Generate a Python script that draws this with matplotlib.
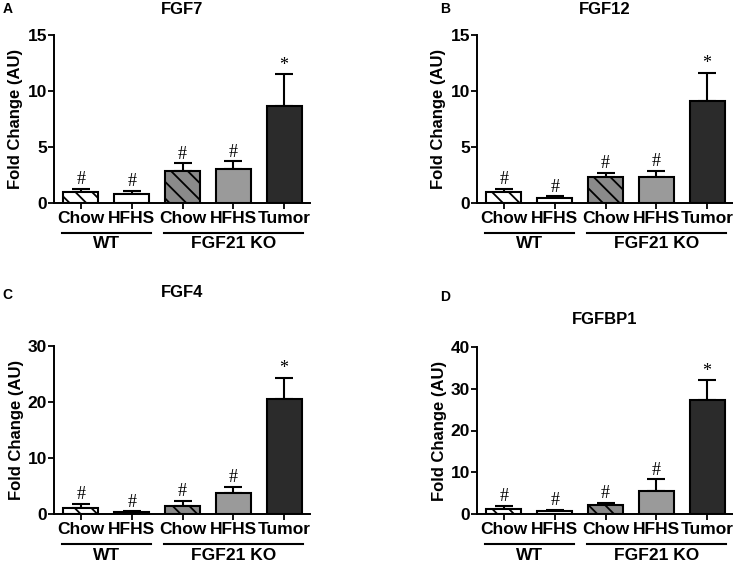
import matplotlib
matplotlib.use("Agg")
import matplotlib.pyplot as plt
import matplotlib.transforms as mtransforms

plt.rcParams['font.family'] = ['Liberation Sans', 'DejaVu Sans']
plt.rcParams['font.weight'] = 'bold'
plt.rcParams['hatch.linewidth'] = 1.3

categories = ["Chow", "HFHS", "Chow", "HFHS", "Tumor"]
groups = ["WT", "FGF21 KO"]

fgf7_mean = [1.0, 0.8, 2.9, 3.0, 8.7]
fgf7_err = [0.27, 0.3, 0.65, 0.72, 2.8]
fgf12_mean = [1.0, 0.47, 2.28, 2.35, 9.15]
fgf12_err = [0.25, 0.13, 0.42, 0.52, 2.45]
fgf4_mean = [1.1, 0.4, 1.5, 3.8, 20.6]
fgf4_err = [0.7, 0.1, 0.8, 1.1, 3.7]
fgfbp1_mean = [1.1, 0.6, 2.1, 5.4, 27.2]
fgfbp1_err = [0.8, 0.35, 0.6, 2.9, 4.8]

marks = ["#", "#", "#", "#", "*"]

fills = ["white", "white", "#8a8a8a", "#9a9a9a", "#2b2b2b"]
hatches = ["\\\\", None, "\\\\", None, None]

W, H = 733, 564
fig = plt.figure(figsize=(W / 100, H / 100), dpi=100)


def px_ax(left, bottom_px, width, height):
    return fig.add_axes([left / W, (H - bottom_px) / H, width / W, height / H])


panels = [
    (fgf7_mean, fgf7_err, 15, 5, px_ax(54, 203, 256, 168)),
    (fgf12_mean, fgf12_err, 15, 5, px_ax(477, 203, 256, 168)),
    (fgf4_mean, fgf4_err, 30, 10, px_ax(54, 514, 256, 168)),
    (fgfbp1_mean, fgfbp1_err, 40, 10, px_ax(477, 514, 256, 167)),
]

FS = 12.5

for mean, err, ymax, step, ax in panels:
    x = list(range(len(categories)))
    ax.bar(x, mean, width=0.69, color=fills, edgecolor="black",
           linewidth=1.5, zorder=2)
    for b, h in zip(ax.patches, hatches):
        if h:
            b.set_hatch(h)
    ax.errorbar(x, mean, yerr=[[0] * len(mean), err], fmt="none",
                ecolor="black", elinewidth=1.5, capsize=6.5, capthick=1.5,
                zorder=1)
    for xi, m, e, mk in zip(x, mean, err, marks):
        ax.annotate(mk, (xi, m + e), xytext=(0, 0.5), textcoords="offset points",
                    ha="center", va="bottom", fontsize=13, fontweight="normal",
                    family="Liberation Serif")
    ax.set_xlim(-0.53, 4.51)
    ax.set_ylim(0, ymax)
    ax.set_yticks(range(0, ymax + 1, step))
    ax.set_xticks(x)
    ax.set_xticklabels(categories, fontsize=FS, fontweight="bold")
    ax.tick_params(axis="y", labelsize=FS, width=1.3, length=4, pad=1)
    ax.tick_params(axis="x", width=1.3, length=4, pad=1.5)
    for lab in ax.get_yticklabels():
        lab.set_fontweight("bold")
    for s in ["top", "right"]:
        ax.spines[s].set_visible(False)
    for s in ["left", "bottom"]:
        ax.spines[s].set_linewidth(1.4)
    ax.set_ylabel("Fold Change (AU)", fontsize=12, fontweight="bold", labelpad=3)
    trans = mtransforms.blended_transform_factory(ax.transData, ax.transAxes)
    h_ax = ax.get_position().height * H
    yline = -30 / h_ax
    ytext = -41 / h_ax
    for (x0, x1), g in zip([(-0.37, 1.37), (1.63, 4.38)], groups):
        ax.plot([x0, x1], [yline, yline], color="black", lw=1.5,
                transform=trans, clip_on=False)
        ax.text((x0 + x1) / 2, ytext, g, transform=trans, ha="center",
                va="center", fontsize=FS, fontweight="bold")

titles = [("FGF7", 182, 9), ("FGF12", 605, 9), ("FGF4", 182, 293), ("FGFBP1", 605, 320)]
for t, xp, yp in titles:
    fig.text(xp / W, 1 - yp / H, t, ha="center", va="center", fontsize=12,
             fontweight="bold")
letters = [("A", 7.5, 9), ("B", 445, 9), ("C", 7.5, 295), ("D", 445, 297)]
for t, xp, yp in letters:
    fig.text(xp / W, 1 - yp / H, t, ha="center", va="center", fontsize=10,
             fontweight="bold")

fig.savefig("out.png", dpi=100)
